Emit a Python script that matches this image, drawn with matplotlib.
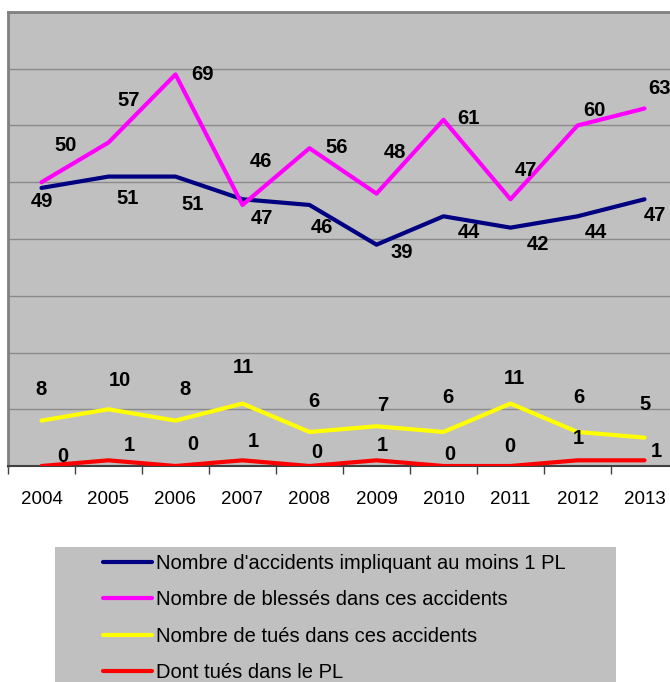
import matplotlib.pyplot as plt
from matplotlib.patches import Rectangle

plt.rcParams['font.family'] = ['Liberation Sans', 'DejaVu Sans']

years = ['2004', '2005', '2006', '2007', '2008', '2009', '2010', '2011', '2012', '2013']
accidents = [49, 51, 51, 47, 46, 39, 44, 42, 44, 47]
blesses = [50, 57, 69, 46, 56, 48, 61, 47, 60, 63]
tues = [8, 10, 8, 11, 6, 7, 6, 11, 6, 5]
tues_pl = [0, 1, 0, 1, 0, 1, 0, 0, 1, 1]

labels = [
    "Nombre d'accidents impliquant au moins 1 PL",
    "Nombre de blessés dans ces accidents",
    "Nombre de tués dans ces accidents",
    "Dont tués dans le PL",
]
colors = ['#000080', '#ff00ff', '#ffff00', '#ff0000']

# label offsets in pixels (dx, dy) for each series, as placed in the original
offsets = [
    [(0, -14), (19, -22), (17, -28), (19, -19), (12, -23), (25, -8), (25, -16), (27, -17), (18, -16), (10, -16)],
    [(24, 37), (20, 42), (27, 0), (18, 43), (27, 1), (18, 41), (25, 1), (15, 29), (17, 15), (15, 20)],
    [(0, 31), (11, 29), (10, 31), (1, 36), (4, 30), (6, 21), (4, 34), (4, 25), (1, 34), (1, 33)],
    [(21, 10), (21, 15), (17, 21), (11, 19), (7, 14), (6, 15), (6, 12), (-1, 19), (1, 22), (12, 9)],
]

W, H = 670, 682
fig = plt.figure(figsize=(W / 100, H / 100), dpi=100)
fig.patch.set_facecolor('white')

ax = fig.add_axes([8 / W, (H - 466) / H, 670 / W, (466 - 12) / H])
ax.set_facecolor('#c0c0c0')

x = range(len(years))
series = [accidents, blesses, tues, tues_pl]
handles = []
for vals, col, lab, offs in zip(series, colors, labels, offsets):
    h, = ax.plot(x, vals, color=col, linewidth=3, label=lab, solid_capstyle='round', zorder=3)
    handles.append(h)
    for i, v in enumerate(vals):
        ax.annotate(str(v), (i, v), xytext=offs[i], textcoords='offset pixels',
                    ha='center', va='center', fontsize=14.5, fontweight='bold', color='black')

ax.set_xlim(-0.5, 9.5)
ax.set_ylim(0, 80)
ax.set_yticks(range(0, 81, 10))
ax.set_yticklabels([])
ax.tick_params(axis='y', length=0)
ax.grid(axis='y', color='#8a8a8a', linewidth=1)
ax.set_axisbelow(True)

ax.set_xticks(list(x))
ax.set_xticklabels(years, fontsize=13.5)
ax.set_xticks([i - 0.5 for i in range(11)], minor=True)
ax.tick_params(axis='x', which='major', length=0, pad=18)
ax.tick_params(axis='x', which='minor', length=6, color='#404040', width=1)

for side in ['left', 'top', 'right']:
    ax.spines[side].set_color('#808080')
    ax.spines[side].set_linewidth(2)
ax.spines['bottom'].set_color('#404040')
ax.spines['bottom'].set_linewidth(1.5)

# legend box
fig.patches.append(Rectangle((55 / W, 0), (616 - 55) / W, (H - 547) / H,
                             transform=fig.transFigure, facecolor='#c0c0c0',
                             edgecolor='none', zorder=0))
fig.legend(handles=handles, loc='upper left', bbox_to_anchor=(103 / W, (H - 554) / H),
           frameon=False, fontsize=14.5, handlelength=2.44, handletextpad=0.2,
           labelspacing=0.86, borderpad=0, borderaxespad=0)

fig.savefig('out.png', dpi=100)
